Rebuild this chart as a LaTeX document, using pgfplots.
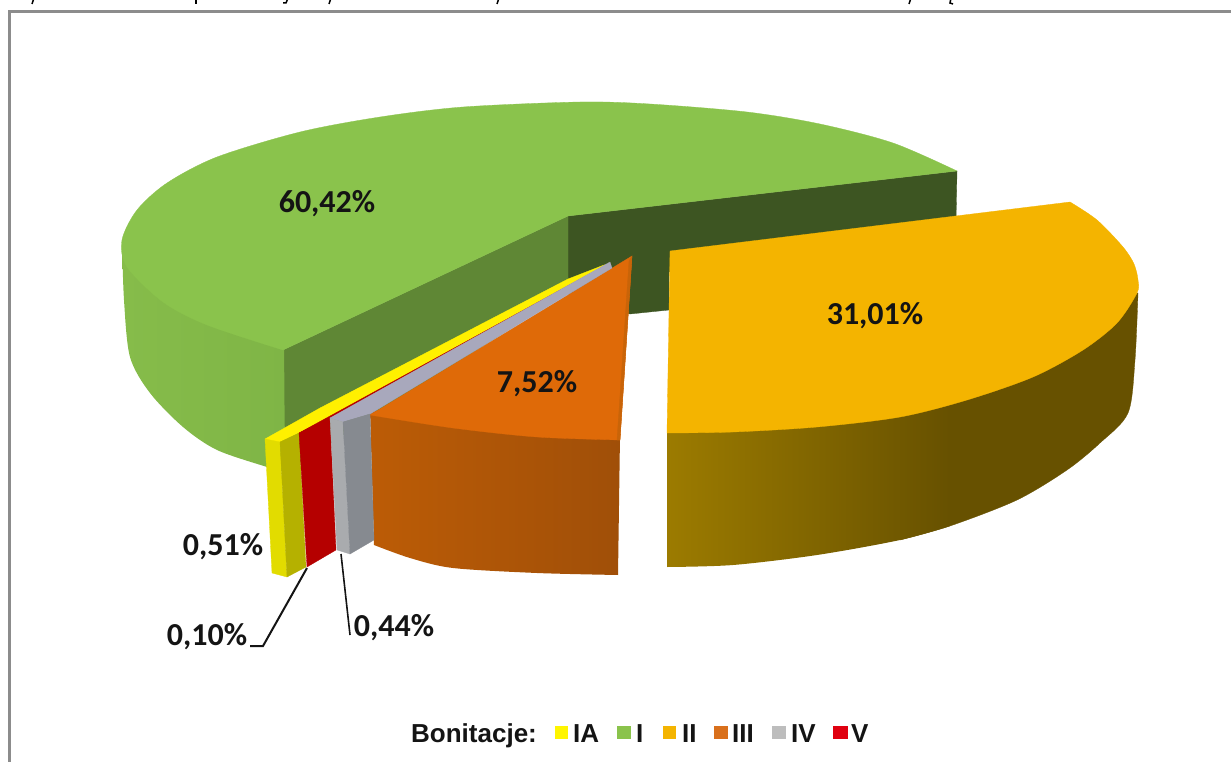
\documentclass[border=0pt]{standalone}
\usepackage{pgfplots}
\pgfplotsset{compat=1.18}
\usepackage{fontspec}
\setmainfont{Carlito}
\newfontfamily\arialb[BoldFont=Liberation Sans Bold]{Liberation Sans}
\definecolor{gtop}{HTML}{8AC34C}
\definecolor{gside}{HTML}{7FB546}
\definecolor{gsideb}{HTML}{86BC4A}
\definecolor{gmid}{HTML}{5F8735}
\definecolor{gdark}{HTML}{3D5522}
\definecolor{atop}{HTML}{F4B400}
\definecolor{asidea}{HTML}{9C7B00}
\definecolor{asideb}{HTML}{675100}
\definecolor{otop}{HTML}{DF6A08}
\definecolor{oedge}{HTML}{C96408}
\definecolor{osidea}{HTML}{BC5C06}
\definecolor{osideb}{HTML}{A04F08}
\definecolor{ytop}{HTML}{FFF000}
\definecolor{yleft}{HTML}{E2DC00}
\definecolor{yout}{HTML}{B5B100}
\definecolor{rface}{HTML}{B50000}
\definecolor{grtop}{HTML}{A8A8BC}
\definecolor{grleft}{HTML}{A9ABAE}
\definecolor{grout}{HTML}{868A90}
\definecolor{frame}{HTML}{8C8C8C}
\definecolor{lab}{HTML}{141414}
\definecolor{lgray}{HTML}{BDBDBD}
\definecolor{lorange}{HTML}{D9701C}
\definecolor{lred}{HTML}{E00010}
\definecolor{lyellow}{HTML}{FFF500}
\pgfplotsset{poly/.style={draw=#1,fill=#1,line width=0.3pt,no marks}}
\tikzset{lbl/.style={text=lab,inner sep=0pt,font=\fontsize{32}{32}\selectfont\bfseries},
         leg/.style={text=lab,inner sep=0pt,anchor=base west,font=\arialb\fontsize{26}{26}\selectfont\bfseries}}
\begin{document}
\begin{tikzpicture}
\begin{axis}[
  scale only axis, width=1231pt, height=762pt,
  xmin=0, xmax=1231, ymin=0, ymax=762, y dir=reverse,
  hide axis, clip=true]
% frame
\addplot[frame,line width=3pt,no marks] coordinates {(9,770)(9,11.5)(1240,11.5)};
% clipped line of text above the frame
\addplot[black,line width=1.5pt,no marks] coordinates {(34,-2)(32,4)};
\addplot[black,line width=1.5pt,no marks] coordinates {(196,-2)(196,4)};
\addplot[black,line width=1.5pt,no marks] coordinates {(288,-2)(286,3)(283,3)};
\addplot[black,line width=1.5pt,no marks] coordinates {(331,-2)(329,4)};
\addplot[black,line width=1.5pt,no marks] coordinates {(499,-2)(497,4)};
\addplot[black,line width=1.5pt,no marks] coordinates {(911,-2)(909,4)};
\addplot[black,line width=1.5pt,no marks] coordinates {(951,-2)(950,3)(953,4)};
% green: dark inner face
\addplot[poly=gdark] coordinates {(568,216)(957,171)(956,222)(669,272)(669,310)(630,314)(568,300)} -- cycle;
% green: mid inner face
\addplot[poly=gmid] coordinates {(283,350)(568,216)(568,292)(285,472)} -- cycle;
% green: outer side
\addplot[draw=none,smooth,left color=gsideb,right color=gside,no marks] coordinates {(122,240)(124,300)(130,357)(150,393)(183,427)(217,450)(267,467)(285,472)} -- (axis cs:284,340) -- (axis cs:150,250) -- cycle;
% green: top
\addplot[poly=gtop,smooth] coordinates {(957,171)(893,143)(820,124)(747,112)(650,104)(580,102)(463,107)(380,117)(300,132)(217,157)(167,183)(137,210)(122,240)(127,267)(163,302)(207,325)(283,350)} -- (axis cs:568,216) -- cycle;
% gold: outer side
\addplot[poly=asideb,smooth] coordinates {(900,540)(950,526)(1017,500)(1067,470)(1100,443)(1128,413)(1135,360)(1138,293)} -- (axis cs:1100,300) -- (axis cs:900,380) -- cycle;
\addplot[draw=none,smooth,left color=asidea,right color=asideb,no marks] coordinates {(667,567)(733,565)(817,555)(900,540)(950,526)} -- (axis cs:950,380) -- (axis cs:667,425) -- cycle;
% gold: top
\addplot[poly=atop,smooth] coordinates {(1070,202)(1097,220)(1123,247)(1134,264)(1138,280)(1137,293)(1117,323)(1083,350)(1033,377)(967,400)(900,417)(817,427)(733,432)(667,433)} -- (axis cs:670,251) -- cycle;
% orange: outer side
\addplot[draw=none,smooth,left color=osidea,right color=osideb,no marks] coordinates {(374,545)(410,558)(453,568)(537,573)(618,575)} -- (axis cs:620,435) -- (axis cs:370,410) -- cycle;
% orange: top
\addplot[poly=otop,smooth] coordinates {(620,440)(537,437)(453,428)(370,415)} -- (axis cs:632,256) -- cycle;
\addplot[poly=oedge] coordinates {(632,256)(620,440)(617,440)(629,261)} -- cycle;
% IA yellow
\addplot[poly=ytop] coordinates {(265,439)(278,443)(299,433)(548,302)(604,265)(568,279)(320,408)} -- cycle;
\addplot[poly=yleft] coordinates {(265,439)(280,442)(287,577)(272,573)} -- cycle;
\addplot[poly=yout] coordinates {(280,442)(299,433)(306,567)(287,577)} -- cycle;
% V red
\addplot[poly=rface] coordinates {(299,433)(330,418)(336,550)(307,567)} -- cycle;
\addplot[poly=rface] coordinates {(299,433)(330,418)(604,266)} -- cycle;
% IV gray
\addplot[poly=grtop] coordinates {(330,418)(610,262)(612,268)(370,414)(343,422)} -- cycle;
\addplot[poly=grleft] coordinates {(330,418)(343,422)(350,554)(337,550)} -- cycle;
\addplot[poly=grout] coordinates {(343,422)(370,414)(374,540)(350,554)} -- cycle;
% leaders
\addplot[lab,line width=2pt,no marks] coordinates {(307,568)(263,646)(250,646)};
\addplot[lab,line width=1.6pt,no marks] coordinates {(341,554)(350,635)};
% labels
\node[lbl] at (axis cs:327,204) {60,42\%};
\node[lbl] at (axis cs:875,316) {31,01\%};
\node[lbl] at (axis cs:537,384) {7,52\%};
\node[lbl] at (axis cs:223,547) {0,51\%};
\node[lbl] at (axis cs:207,637) {0,10\%};
\node[lbl] at (axis cs:394,628) {0,44\%};
% legend
\addplot[poly=lyellow] coordinates {(555,726)(567,726)(567,738)(555,738)} -- cycle;
\addplot[poly=gtop] coordinates {(617,726)(630,726)(630,738)(617,738)} -- cycle;
\addplot[poly=atop] coordinates {(663,726)(675,726)(675,738)(663,738)} -- cycle;
\addplot[poly=lorange] coordinates {(714,726)(727,726)(727,738)(714,738)} -- cycle;
\addplot[poly=lgray] coordinates {(772,726)(785,726)(785,738)(772,738)} -- cycle;
\addplot[poly=lred] coordinates {(833,726)(847,726)(847,738)(833,738)} -- cycle;
\node[leg] at (axis cs:411,742) {Bonitacje:};
\node[leg] at (axis cs:573,742) {IA};
\node[leg] at (axis cs:636,742) {I};
\node[leg] at (axis cs:682,742) {II};
\node[leg] at (axis cs:732,742) {III};
\node[leg] at (axis cs:791,742) {IV};
\node[leg] at (axis cs:851,742) {V};
\end{axis}
\pgfresetboundingbox
\useasboundingbox (0,0) rectangle (1231pt,762pt);
\end{tikzpicture}
\end{document}
